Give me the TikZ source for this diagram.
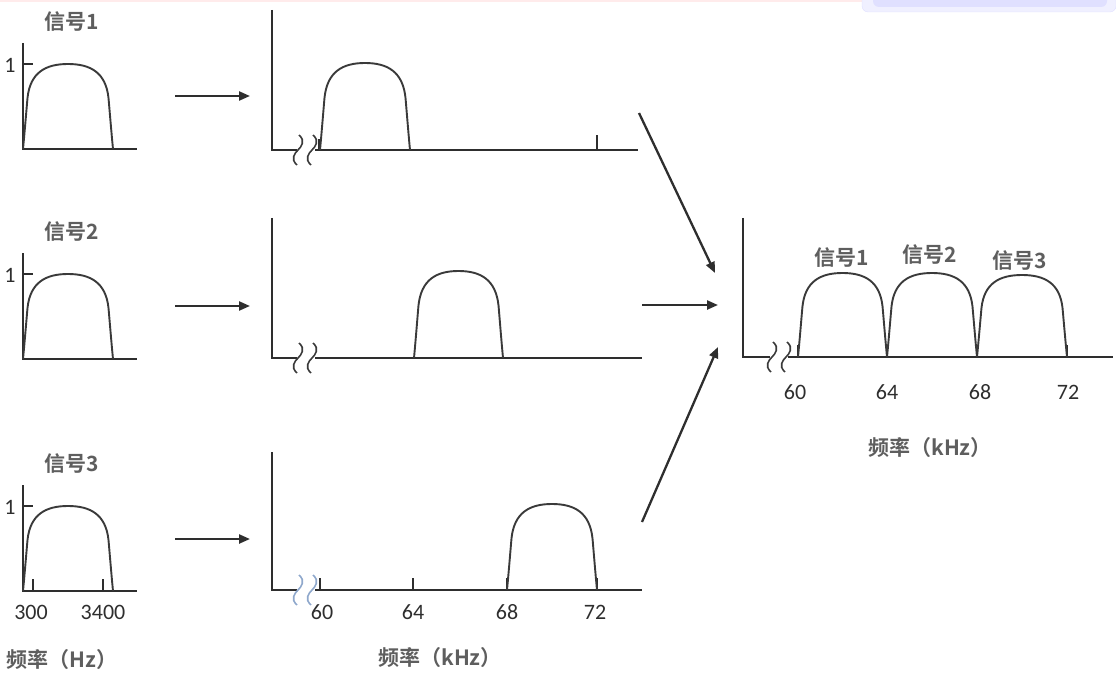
\documentclass[tikz,border=0pt]{standalone}
\usepackage{fontspec}
\setmainfont{Carlito}
\newfontfamily\cjk{Noto Sans CJK SC}[BoldFont={Noto Sans CJK SC Bold}]
\usetikzlibrary{arrows.meta}
\definecolor{ink}{HTML}{2E2E2E}
\definecolor{curve}{HTML}{3A3A3A}
\definecolor{lbl}{HTML}{5E5E5E}
\definecolor{squigblue}{HTML}{8FA8CC}
\tikzset{
  axisline/.style={draw=ink, line width=2.2pt, line join=miter},
  pulseline/.style={draw=curve, line width=1.9pt},
  tickline/.style={draw=ink, line width=2pt},
  squigline/.style={draw=curve, line width=1.6pt},
  bigarrow/.style={draw=ink, line width=2.3pt, -{Triangle[length=11pt,width=9pt]}},
  cjklabel/.style={text=lbl, font=\cjk\bfseries\fontsize{21}{24}\selectfont, inner sep=0pt},
  numlabel/.style={text=ink, font=\fontsize{22}{24}\selectfont, inner sep=0pt},
}
% #1 = left x, #2 = right x, #3 = base y, #4 = top y (pixel coordinates, y downwards)
\newcommand\pulsecurve[4]{%
  \pgfmathsetmacro\pw{(#2)-(#1)}%
  \pgfmathsetmacro\ph{(#3)-(#4)}%
  \pgfmathsetmacro\pa{#1}%
  \pgfmathsetmacro\pb{#3}%
  \draw[pulseline]
    (\pa,\pb)
    .. controls ({\pa+0.02*\pw},{\pb-0.22*\ph}) and ({\pa+0.035*\pw},{\pb-0.42*\ph}) .. ({\pa+0.05*\pw},{\pb-0.6*\ph})
    .. controls ({\pa+0.08*\pw},{\pb-0.9*\ph}) and ({\pa+0.25*\pw},{\pb-\ph}) .. ({\pa+0.5*\pw},{\pb-\ph})
    .. controls ({\pa+0.75*\pw},{\pb-\ph}) and ({\pa+0.92*\pw},{\pb-0.9*\ph}) .. ({\pa+0.95*\pw},{\pb-0.6*\ph})
    .. controls ({\pa+0.965*\pw},{\pb-0.42*\ph}) and ({\pa+0.98*\pw},{\pb-0.22*\ph}) .. ({\pa+\pw},\pb);}
\newcommand\squiggle[3][squigline]{%
  \draw[#1] ({#2+1},{#3-15}) .. controls ({#2+8},{#3-9}) and ({#2+3},{#3-3}) .. (#2,#3)
    .. controls ({#2-3},{#3+3}) and ({#2-8},{#3+9}) .. ({#2-1},{#3+15});}
\begin{document}
\begin{tikzpicture}[x=1pt,y=-1pt]
\useasboundingbox (0,0) rectangle (1116,679);
% screenshot artefacts at the top edge
\fill[red!8] (0,0) rectangle (1116,2.5);
\fill[rounded corners=6pt, fill=blue!6, draw=blue!12] (862,-8) rectangle (1116,12);
\fill[rounded corners=6pt, fill=blue!12] (873,-8) rectangle (1107,7);

% ---------- left: baseband signals ----------
\foreach \dy/\k in {0/1,210/2,442/3}{
  \draw[axisline] (23,{43+\dy}) -- (23,{149+\dy}) -- (137,{149+\dy});
  \draw[tickline] (23,{64+\dy}) -- (33,{64+\dy});
  \pulsecurve{23}{113}{149+\dy}{64+\dy}
  \node[cjklabel] (sig\k) at (72,{22+\dy}) {信号\k};
  \node[numlabel] (one\k) at (10,{65+\dy}) {1};
}
\draw[tickline] (33,591) -- (33,579);
\draw[tickline] (103,591) -- (103,579);
\node[numlabel] (n300) at (31,612) {300};
\node[numlabel] (n3400) at (103,612) {3400};
\node[cjklabel] (fhz) at (62,660) {频率（Hz）};

% ---------- left arrows ----------
\foreach \y/\k in {96/1,306/2,539/3}{
  \coordinate (la\k) at (175,\y);
  \coordinate (lb\k) at (250,\y);
  \draw[bigarrow] (la\k) -- (lb\k);
}

% ---------- middle: shifted signals ----------
% panel 1
\draw[axisline] (272,10) -- (272,150) -- (297,150);
\draw[axisline] (315,150) -- (638,150);
\squiggle{298}{150}
\squiggle{312}{150}
\draw[tickline] (319,150) -- (319,139);
\draw[tickline] (597,150) -- (597,135);
\pulsecurve{320}{410}{150}{63}
% panel 2
\draw[axisline] (272,218) -- (272,358) -- (297,358);
\draw[axisline] (315,358) -- (642,358);
\squiggle{298}{358}
\squiggle{312}{358}
\pulsecurve{414}{503}{358}{271}
% panel 3
\draw[axisline] (272,452) -- (272,590) -- (297,590);
\draw[axisline] (315,590) -- (642,590);
\squiggle[squigline,draw=squigblue]{298}{590}
\squiggle[squigline,draw=squigblue]{312}{590}
\foreach \x in {320,413,507,597}{\draw[tickline] (\x,590) -- (\x,578);}
\pulsecurve{507}{597}{590}{504}
\node[numlabel] (m60) at (322,612) {60};
\node[numlabel] (m64) at (413,612) {64};
\node[numlabel] (m68) at (507,612) {68};
\node[numlabel] (m72) at (595,612) {72};
\node[cjklabel] (mkhz) at (440,658) {频率（kHz）};

% ---------- combining arrows ----------
\coordinate (ca1) at (639,113); \coordinate (cb1) at (715,273);
\coordinate (ca2) at (642,305); \coordinate (cb2) at (718,305);
\coordinate (ca3) at (642,522); \coordinate (cb3) at (718,347);
\draw[bigarrow] (ca1) -- (cb1);
\draw[bigarrow] (ca2) -- (cb2);
\draw[bigarrow] (ca3) -- (cb3);

% ---------- right: multiplexed spectrum ----------
\draw[axisline] (743,218) -- (743,357) -- (770,357);
\draw[axisline] (788,357) -- (1113,357);
\squiggle{772}{357}
\squiggle{786}{357}
\foreach \x in {798,887,977,1067}{\draw[tickline] (\x,357) -- (\x,345);}
\pulsecurve{798}{887}{357}{273}
\pulsecurve{887}{977}{357}{273}
\pulsecurve{977}{1067}{357}{275}
\node[cjklabel] (r1) at (842,258) {信号1};
\node[cjklabel] (r2) at (930,255) {信号2};
\node[cjklabel] (r3) at (1020,261) {信号3};
\node[numlabel] (r60) at (795,392) {60};
\node[numlabel] (r64) at (887,392) {64};
\node[numlabel] (r68) at (980,392) {68};
\node[numlabel] (r72) at (1068,392) {72};
\node[cjklabel] (rkhz) at (930,448) {频率（kHz）};
\end{tikzpicture}
\end{document}
